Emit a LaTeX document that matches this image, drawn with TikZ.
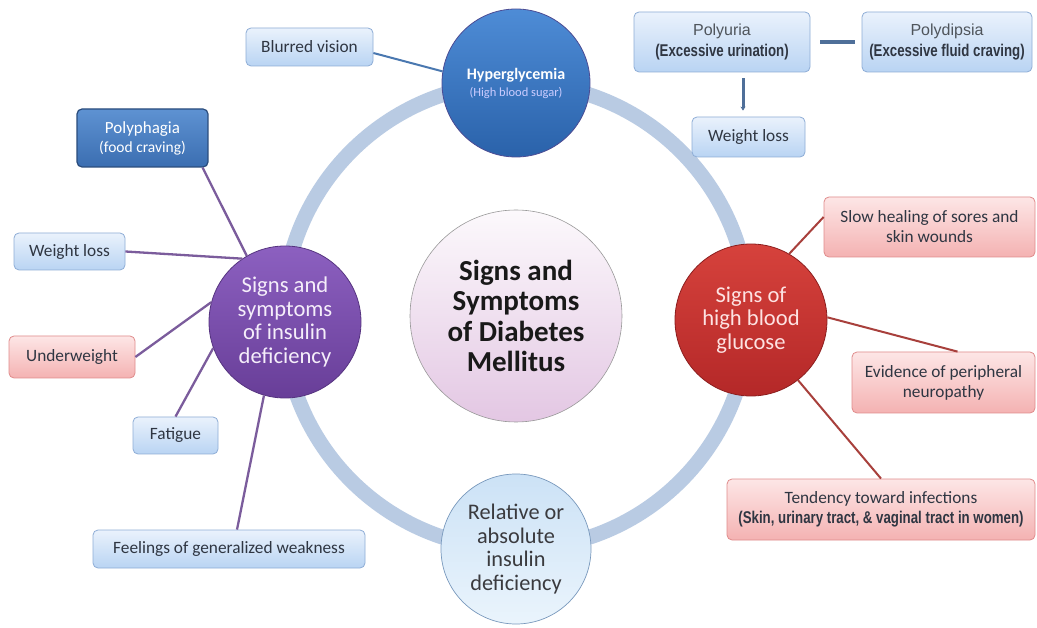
\documentclass[tikz,border=0pt]{standalone}
\usepackage{fontspec}
\setmainfont{Carlito}
\newfontfamily\narrowb[FakeStretch=0.78]{Liberation Sans}
\newfontfamily\arialf{Liberation Sans}
\usetikzlibrary{arrows.meta,calc}
\definecolor{ringc}{HTML}{B9CBE3}
\definecolor{bbtop}{HTML}{EAF2FC}
\definecolor{bbbot}{HTML}{B9D4F3}
\definecolor{bbdraw}{HTML}{8EADD6}
\definecolor{pbtop}{HTML}{FDE6E6}
\definecolor{pbbot}{HTML}{F4B2B2}
\definecolor{pbdraw}{HTML}{E08C8C}
\definecolor{dbtop}{HTML}{5E92D2}
\definecolor{dbbot}{HTML}{3B6EB1}
\definecolor{dbdraw}{HTML}{2A4C7C}
\definecolor{txt}{HTML}{2F3642}
\definecolor{graytxt}{HTML}{4F555C}
\definecolor{purpline}{HTML}{7B5C9C}
\definecolor{redline}{HTML}{A8403C}
\definecolor{blueline}{HTML}{4A78B0}
\definecolor{barc}{HTML}{4F6F99}
\begin{document}
\begin{tikzpicture}[x=1pt,y=-1pt,
  boxbase/.style={rectangle, rounded corners=5pt, line width=0.8pt, align=center, inner sep=0pt,
    text=txt, font=\fontsize{17.3}{20}\selectfont},
  bluebox/.style={boxbase, draw=bbdraw, top color=bbtop, bottom color=bbbot},
  pinkbox/.style={boxbase, draw=pbdraw, top color=pbtop, bottom color=pbbot},
  darkbox/.style={boxbase, draw=dbdraw, line width=1.2pt, top color=dbtop, bottom color=dbbot, text=white},
  bigcirc/.style={circle, inner sep=0pt, align=center, minimum size=152pt, font=\fontsize{22.6}{23.8}\selectfont},
  purpline/.style={draw=purpline, line width=2.3pt},
  redlink/.style={draw=redline, line width=2pt},
  bluelink/.style={draw=blueline, line width=2pt},
  ring/.style={draw=ringc, line width=15pt}
]
\useasboundingbox (0,0) rectangle (1037,628);
\fill[white] (0,0) rectangle (1037,628);

% ring
\draw[ring] (516,316) circle[radius=233];

% central circle
\node[circle, draw=black!40, line width=0.6pt, top color=white!70!violet!8, bottom color=violet!22!white,
  minimum size=212pt, inner sep=0pt, align=center, text=black!90,
  font=\bfseries\fontsize{29}{30.5}\selectfont] (center) at (516,316)
  {Signs and\\Symptoms\\of Diabetes\\Mellitus};

% four circles on the ring
\node[circle, draw=blue!40!black!70, line width=0.8pt, top color={rgb,255:red,78;green,140;blue,214},
  bottom color={rgb,255:red,42;green,98;blue,170}, minimum size=148pt, inner sep=0pt, align=center,
  text=white] (hyper) at (516,83)
  {{\bfseries\fontsize{16}{18}\selectfont Hyperglycemia}\\[5pt]{\fontsize{12.5}{14}\selectfont\color{white!80!blue}(High blood sugar)}};

\node[bigcirc, draw={rgb,255:red,86;green,52;blue,128}, line width=0.8pt,
  top color={rgb,255:red,140;green,96;blue,192}, bottom color={rgb,255:red,104;green,62;blue,152},
  text={rgb,255:red,245;green,238;blue,250}] (purple) at (285,322)
  {Signs and\\symptoms\\of insulin\\deficiency};

\node[bigcirc, draw={rgb,255:red,140;green,30;blue,30}, line width=0.8pt,
  top color={rgb,255:red,214;green,66;blue,60}, bottom color={rgb,255:red,180;green,40;blue,40},
  text={rgb,255:red,253;green,226;blue,226}] (red) at (751,320)
  {Signs of\\high blood\\glucose};

\node[bigcirc, minimum size=150pt, draw={rgb,255:red,120;green,152;blue,188}, line width=0.7pt,
  top color={rgb,255:red,204;green,226;blue,246}, bottom color={rgb,255:red,234;green,244;blue,252},
  text={rgb,255:red,58;green,58;blue,62}, font=\fontsize{22.3}{23.5}\selectfont] (insulin) at (516,549)
  {Relative or\\absolute\\insulin\\deficiency};

% boxes
\node[bluebox, minimum width=127pt, minimum height=38pt] (blur) at (309.5,47) {Blurred vision};
\node[bluebox, minimum width=176pt, minimum height=60pt, font=\fontsize{16}{21}\selectfont] (polyuria) at (722,42)
  {{\arialf\color{graytxt}Polyuria}\\{\narrowb\bfseries\fontsize{17}{19}\selectfont (Excessive urination)}};
\node[bluebox, minimum width=170pt, minimum height=60pt, font=\fontsize{16}{21}\selectfont] (polydipsia) at (947,42)
  {{\arialf\color{graytxt}Polydipsia}\\{\narrowb\bfseries\fontsize{17}{19}\selectfont (Excessive fluid craving)}};
\node[bluebox, minimum width=113pt, minimum height=40pt] (wlr) at (748.5,137) {Weight loss};

\node[darkbox, minimum width=131pt, minimum height=58pt, font=\fontsize{17}{19}\selectfont] (polyphagia) at (142.5,138)
  {Polyphagia\\{\fontsize{15.5}{18}\selectfont(food craving)}};
\node[bluebox, minimum width=111pt, minimum height=37pt] (wll) at (69.5,251.5) {Weight loss};
\node[pinkbox, minimum width=126pt, minimum height=42pt] (under) at (72,357) {Underweight};
\node[bluebox, minimum width=85pt, minimum height=37pt] (fatigue) at (175.5,435.5) {Fatigue};
\node[bluebox, minimum width=272pt, minimum height=38pt] (weak) at (229,549) {Feelings of generalized weakness};

\node[pinkbox, minimum width=211pt, minimum height=60pt] (slow) at (929.5,227)
  {Slow healing of sores and\\skin wounds};
\node[pinkbox, minimum width=183pt, minimum height=61pt] (neuro) at (943.5,382.5)
  {Evidence of peripheral\\neuropathy};
\node[pinkbox, minimum width=308pt, minimum height=61pt] (infect) at (881,509.5)
  {Tendency toward infections\\{\narrowb\bfseries\fontsize{17}{19}\selectfont (Skin, urinary tract, \& vaginal tract in women)}};

% connectors
\draw[bluelink] ($(blur.east)+(0,6)$) -- (hyper.171);
\draw[draw=barc, line width=4pt, shorten <=10pt, shorten >=7pt] (polyuria.east) -- (polydipsia.west);
\draw[draw=barc, line width=3pt, shorten <=6pt, shorten >=6pt, -{Stealth[length=4pt,width=5pt]}]
  (polyuria.south -| 743,0) -- (wlr.north -| 743,0);

\draw[purpline] ($(polyphagia.south east)+(-6,0)$) -- (purple.120);
\draw[purpline] (wll.east) -- (purple.124);
\draw[purpline] (under.east) -- (purple.165);
\draw[purpline] (fatigue.north) -- (purple.200);
\draw[purpline] ($(weak.north)+(8,0)$) -- (purple.254);

\draw[redlink] (red.60) -- ($(slow.west)+(0,-10)$);
\draw[redlink] (red.2) -- ($(neuro.north)+(14,0)$);
\draw[redlink] (red.308) -- (infect.north);
\end{tikzpicture}
\end{document}
